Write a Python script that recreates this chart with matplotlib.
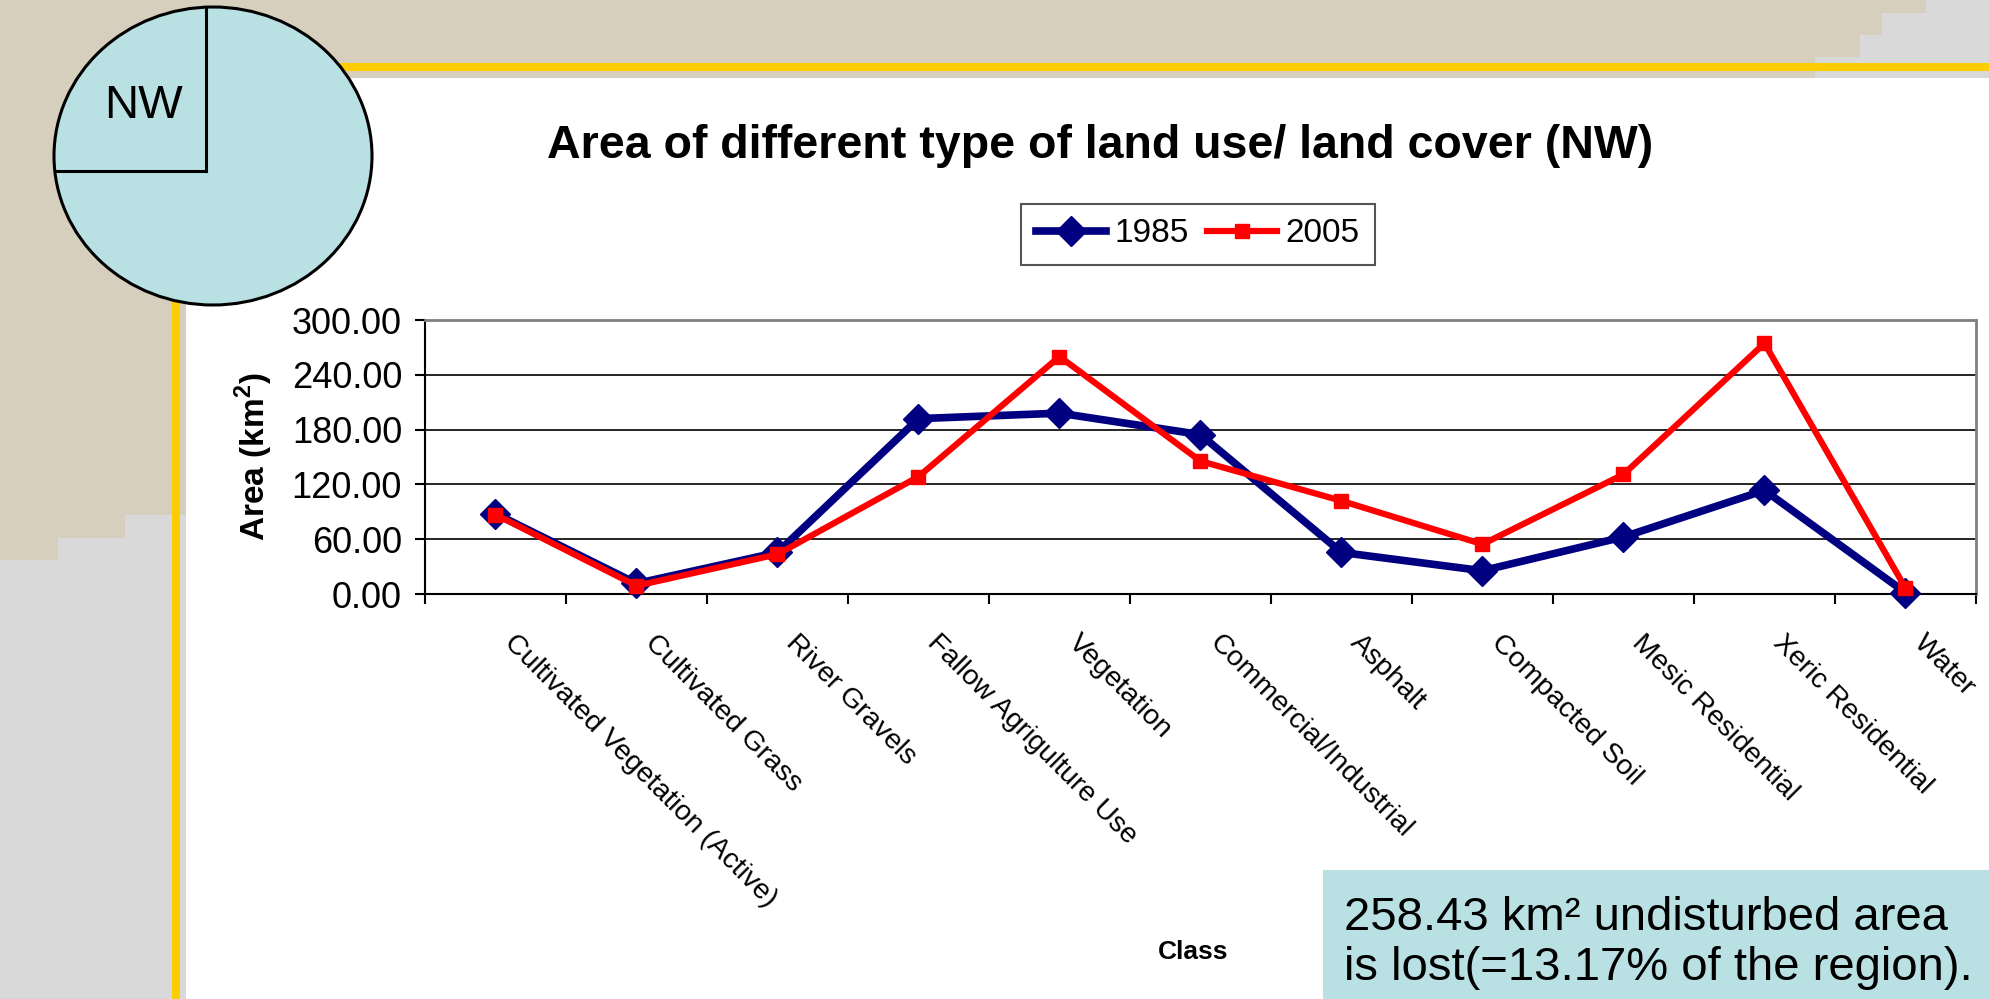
import numpy as np
import matplotlib
matplotlib.use("Agg")
import matplotlib.pyplot as plt
import matplotlib.transforms as mtransforms
from matplotlib.patches import Rectangle, Ellipse
from matplotlib.lines import Line2D

plt.rcParams['font.family'] = ['Liberation Sans', 'DejaVu Sans']
plt.rcParams['mathtext.fontset'] = 'custom'
plt.rcParams['mathtext.rm'] = 'Liberation Sans'
plt.rcParams['mathtext.bf'] = 'Liberation Sans:bold'

# data
classes = ['Cultivated Vegetation (Active)', 'Cultivated Grass', 'River Gravels',
           'Fallow Agrigulture Use', 'Vegetation', 'Commercial/Industrial',
           'Asphalt', 'Compacted Soil', 'Mesic Residential', 'Xeric Residential',
           'Water']
area_1985 = [88, 11.5, 45.5, 192, 198, 174.5, 45.5, 25.5, 62.5, 113.5, 1.5]
area_2005 = [87, 9, 43.5, 128.5, 260, 145.5, 102, 54.5, 131, 274.5, 6.5]
years = ['1985', '2005']
y_ticks = [0, 60, 120, 180, 240, 300]

W, H = 1990, 999
fig = plt.figure(figsize=(W / 100, H / 100), dpi=100)


def fx(px):
    return px / W


def fy(py):
    return 1 - py / H


def box(x0, y0, x1, y1, color):
    fig.patches.append(Rectangle((fx(x0), fy(y1)), fx(x1) - fx(x0), fy(y0) - fy(y1),
                                 transform=fig.transFigure, facecolor=color,
                                 edgecolor='none', zorder=-5))


# slide background
tan = '#D7CFBD'
grey = '#D9D9D9'
yellow = '#FFCC00'
light_blue = '#B9E0E3'

box(0, 0, W, 78, tan)
box(0, 0, 186, 560, tan)
box(0, 560, 186, H, grey)
box(58, 538, 186, 560, grey)
box(125, 515, 186, 538, grey)
box(1926, 0, W, 78, grey)
box(1882, 13, W, 78, grey)
box(1860, 35, W, 78, grey)
box(1815, 57, W, 78, grey)
box(186, 78, W, H, 'white')
box(172, 63, W, 71, yellow)
box(172, 63, 180, H, yellow)

# little region map
fig.patches.append(Ellipse((fx(213), fy(156)), fx(318), 298 / H, transform=fig.transFigure,
                           facecolor=light_blue, edgecolor='black', lw=2.2, zorder=-4))
fig.lines.append(Line2D([fx(206), fx(206)], [fy(8), fy(171)], transform=fig.transFigure,
                        color='black', lw=2.2, zorder=-3))
fig.lines.append(Line2D([fx(55), fx(206)], [fy(171), fy(171)], transform=fig.transFigure,
                        color='black', lw=2.2, zorder=-3))
fig.text(fx(144), fy(106), 'NW', fontsize=34, ha='center', va='center')

# chart
ax = fig.add_axes([fx(425), fy(594), fx(1976) - fx(425), fy(320) - fy(594)])
ax.set_zorder(2)
x = np.arange(len(classes))
ax.plot(x, area_1985, color='#000080', lw=5.5, marker='D', ms=15, label=years[0],
        zorder=3, clip_on=False)
ax.plot(x, area_2005, color='#FF0000', lw=4.5, marker='s', ms=10, label=years[1],
        zorder=4, clip_on=False)

ax.set_xlim(-0.5, len(classes) - 0.5)
ax.set_ylim(0, 300)
ax.set_xticks(np.arange(len(classes) + 1) - 0.5)
ax.set_xticklabels([])
ax.set_yticks(y_ticks)
ax.set_yticklabels([f'{v:.2f}' for v in y_ticks], fontsize=26)
ax.tick_params(axis='both', direction='out', length=7.5, width=1.5, color='black')
ax.tick_params(axis='y', pad=9)
ax.yaxis.grid(True, color='black', lw=1.2)
ax.set_axisbelow(True)
for s in ['top', 'right']:
    ax.spines[s].set_color('#808080')
    ax.spines[s].set_linewidth(2)
for s in ['left', 'bottom']:
    ax.spines[s].set_color('black')
    ax.spines[s].set_linewidth(1.5)

lab_trans = mtransforms.blended_transform_factory(ax.transData, ax.transAxes) + \
    mtransforms.ScaledTranslation(22 / 100, -36 / 100, fig.dpi_scale_trans)
for i, name in enumerate(classes):
    ax.text(i, 0, name, transform=lab_trans, rotation=-45, rotation_mode='anchor',
            ha='left', va='top', fontsize=20.5)

leg = ax.legend(loc='center', bbox_to_anchor=(fx(1198), fy(234)),
                bbox_transform=fig.transFigure, ncol=2, fontsize=24, frameon=True,
                fancybox=False, framealpha=1, edgecolor='#555555', handlelength=2.1,
                columnspacing=0.55, handletextpad=0.25, borderpad=0.45)
leg.get_frame().set_linewidth(1.5)

fig.text(fx(1100), fy(146), 'Area of different type of land use/ land cover (NW)',
         fontsize=33.5, fontweight='bold', ha='center', va='center')
fig.text(fx(254), fy(457), r'Area (km$^{\mathbf{2}}$)', fontsize=24, fontweight='bold',
         rotation=90, ha='center', va='center')
fig.text(fx(1193), fy(952), 'Class', fontsize=19, fontweight='bold',
         ha='center', va='center')

# note box
box(1323, 870, W, H, light_blue)
fig.text(fx(1344), fy(943), '258.43 km² undisturbed area\nis lost(=13.17% of the region).',
         fontsize=34, ha='left', va='center', linespacing=1.15)

fig.savefig('out.png', dpi=100)
